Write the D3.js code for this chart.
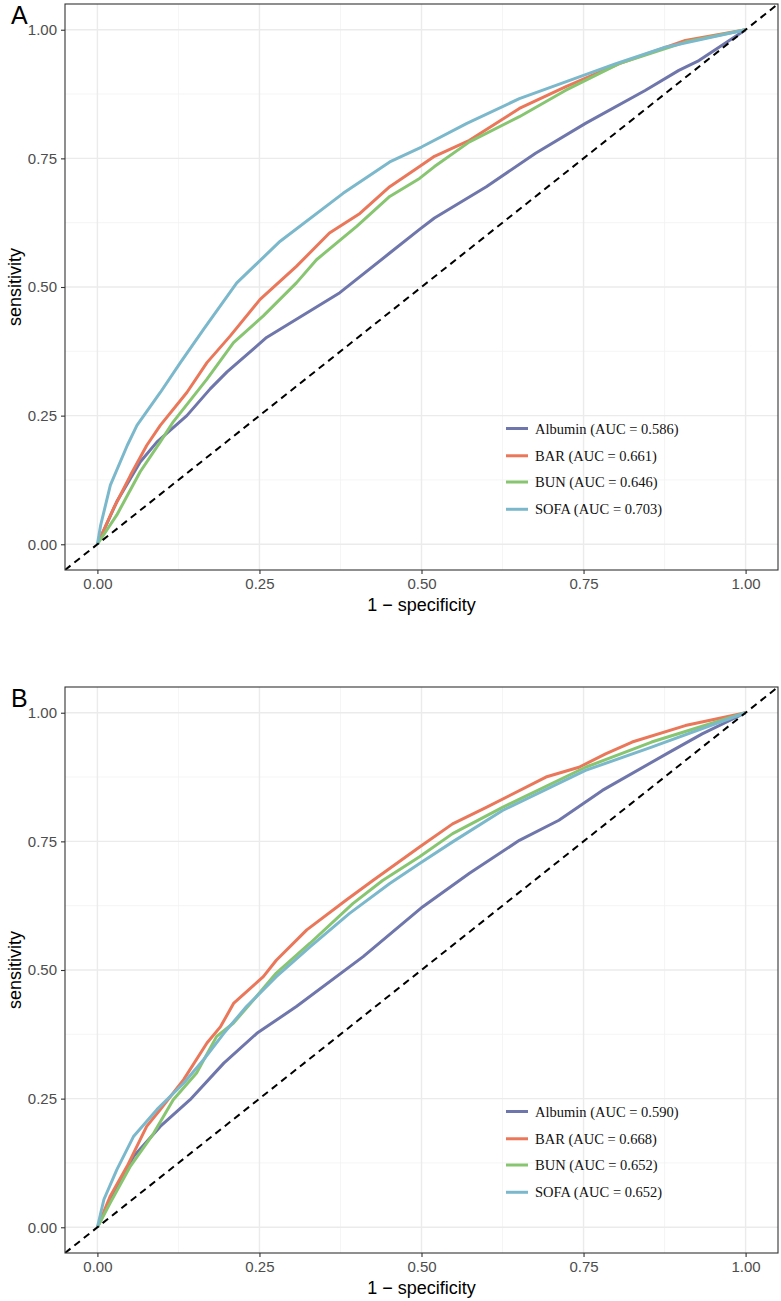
<!DOCTYPE html>
<html>
<head>
<meta charset="utf-8">
<script src="https://cdn.jsdelivr.net/npm/d3@7"></script>
<style>
  body { margin: 0; background: #fff; }
  svg { display: block; }
</style>
</head>
<body>
<div id="chart"></div>
<script>
// ROC points, [1 - specificity, sensitivity]
var albuminA = [[0,0],[0.03,0.083],[0.066,0.16],[0.092,0.199],[0.138,0.25],[0.174,0.302],[0.2,0.335],[0.261,0.402],[0.374,0.489],[0.451,0.566],[0.497,0.612],[0.52,0.634],[0.6,0.695],[0.676,0.76],[0.753,0.818],[0.845,0.882],[0.897,0.921],[0.928,0.94],[1,1]];
var barA = [[0,0],[0.025,0.07],[0.051,0.134],[0.076,0.192],[0.097,0.231],[0.138,0.295],[0.169,0.353],[0.205,0.405],[0.251,0.476],[0.307,0.54],[0.358,0.605],[0.405,0.643],[0.451,0.695],[0.497,0.734],[0.52,0.754],[0.574,0.785],[0.651,0.847],[0.722,0.889],[0.805,0.934],[0.907,0.979],[1,1]];
var bunA = [[0,0],[0.03,0.057],[0.066,0.141],[0.097,0.199],[0.117,0.238],[0.169,0.321],[0.21,0.392],[0.256,0.444],[0.307,0.508],[0.338,0.553],[0.4,0.618],[0.451,0.676],[0.497,0.711],[0.52,0.734],[0.574,0.782],[0.651,0.831],[0.722,0.882],[0.805,0.934],[0.907,0.976],[1,1]];
var sofaA = [[0,0],[0.005,0.037],[0.02,0.115],[0.046,0.192],[0.061,0.231],[0.097,0.295],[0.128,0.353],[0.164,0.418],[0.215,0.508],[0.282,0.589],[0.379,0.682],[0.451,0.743],[0.5,0.772],[0.57,0.818],[0.651,0.866],[0.8,0.934],[0.876,0.966],[1,1]];

var albuminB = [[0,0],[0.02,0.054],[0.056,0.138],[0.097,0.196],[0.143,0.248],[0.195,0.319],[0.246,0.377],[0.307,0.429],[0.41,0.526],[0.502,0.623],[0.574,0.688],[0.651,0.752],[0.712,0.791],[0.779,0.849],[0.882,0.923],[0.933,0.959],[1,1]];
var barB = [[0,0],[0.02,0.061],[0.046,0.119],[0.076,0.196],[0.097,0.229],[0.133,0.287],[0.169,0.358],[0.19,0.39],[0.21,0.435],[0.256,0.487],[0.276,0.519],[0.323,0.578],[0.384,0.636],[0.425,0.674],[0.497,0.739],[0.548,0.784],[0.6,0.816],[0.692,0.875],[0.743,0.894],[0.784,0.92],[0.825,0.943],[0.907,0.975],[1,1]];
var bunB = [[0,0],[0.02,0.048],[0.051,0.119],[0.087,0.183],[0.117,0.248],[0.153,0.3],[0.184,0.371],[0.21,0.397],[0.241,0.442],[0.276,0.494],[0.328,0.552],[0.394,0.629],[0.44,0.674],[0.497,0.72],[0.548,0.765],[0.625,0.816],[0.753,0.894],[0.855,0.943],[1,1]];
var sofaB = [[0,0],[0.01,0.054],[0.03,0.112],[0.056,0.177],[0.092,0.229],[0.133,0.28],[0.164,0.326],[0.195,0.377],[0.23,0.429],[0.276,0.487],[0.328,0.545],[0.389,0.61],[0.451,0.668],[0.497,0.707],[0.548,0.749],[0.625,0.81],[0.753,0.888],[0.855,0.933],[1,1]];

var seriesNames = ["Albumin", "BAR", "BUN", "SOFA"];
var seriesColors = ["#6e76ab", "#ea7759", "#88c571", "#7bb8cc"];
var aucA = ["0.586", "0.661", "0.646", "0.703"];
var aucB = ["0.590", "0.668", "0.652", "0.652"];
var tickValues = [0, 0.25, 0.5, 0.75, 1];
var minorValues = [0.125, 0.375, 0.625, 0.875];

var svg = d3.select("#chart").append("svg")
  .attr("width", 781)
  .attr("height", 1301);

function drawPanel(tag, top, data, auc) {
  var left = 65, right = 778, height = 566;
  var bottom = top + height;

  var x = d3.scaleLinear().domain([-0.05, 1.05]).range([left, right]);
  var y = d3.scaleLinear().domain([-0.05, 1.05]).range([bottom, top]);

  var g = svg.append("g");
  var clipId = "clip" + tag;
  g.append("clipPath").attr("id", clipId)
    .append("rect").attr("x", left).attr("y", top)
    .attr("width", right - left).attr("height", height);

  // grid
  g.selectAll(".minx").data(minorValues).enter().append("line")
    .attr("x1", x).attr("x2", x).attr("y1", top).attr("y2", bottom)
    .attr("stroke", "#f2f2f2").attr("stroke-width", 0.8);
  g.selectAll(".miny").data(minorValues).enter().append("line")
    .attr("y1", y).attr("y2", y).attr("x1", left).attr("x2", right)
    .attr("stroke", "#f2f2f2").attr("stroke-width", 0.8);
  g.selectAll(".majx").data(tickValues).enter().append("line")
    .attr("x1", x).attr("x2", x).attr("y1", top).attr("y2", bottom)
    .attr("stroke", "#ebebeb").attr("stroke-width", 1.4);
  g.selectAll(".majy").data(tickValues).enter().append("line")
    .attr("y1", y).attr("y2", y).attr("x1", left).attr("x2", right)
    .attr("stroke", "#ebebeb").attr("stroke-width", 1.4);

  var line = d3.line()
    .x(function(d) { return x(d[0]); })
    .y(function(d) { return y(d[1]); });

  var plot = g.append("g").attr("clip-path", "url(#" + clipId + ")");
  data.forEach(function(pts, i) {
    plot.append("path")
      .attr("d", line(pts))
      .attr("fill", "none")
      .attr("stroke", seriesColors[i])
      .attr("stroke-width", 3)
      .attr("stroke-linejoin", "round");
  });

  // reference diagonal
  plot.append("line")
    .attr("x1", x(-0.05)).attr("y1", y(-0.05))
    .attr("x2", x(1.05)).attr("y2", y(1.05))
    .attr("stroke", "#000").attr("stroke-width", 2)
    .attr("stroke-dasharray", "7,5");

  // border
  g.append("rect").attr("x", left).attr("y", top)
    .attr("width", right - left).attr("height", height)
    .attr("fill", "none").attr("stroke", "#333").attr("stroke-width", 1.1);

  // axes
  var xAxis = g.append("g").attr("transform", "translate(0," + bottom + ")")
    .call(d3.axisBottom(x).tickValues(tickValues).tickFormat(d3.format(".2f")).tickSizeOuter(0).tickSize(4).tickPadding(4));
  var yAxis = g.append("g").attr("transform", "translate(" + left + ",0)")
    .call(d3.axisLeft(y).tickValues(tickValues).tickFormat(d3.format(".2f")).tickSizeOuter(0).tickSize(4).tickPadding(4));
  [xAxis, yAxis].forEach(function(a) {
    a.select(".domain").remove();
    a.selectAll(".tick line").attr("stroke", "#333").attr("stroke-width", 1.1);
    a.selectAll(".tick text").attr("fill", "#4d4d4d")
      .style("font-family", "Liberation Sans, Arial, sans-serif").style("font-size", "15px");
  });

  g.append("text")
    .attr("x", (left + right) / 2).attr("y", bottom + 41)
    .attr("text-anchor", "middle")
    .style("font-family", "Liberation Sans, Arial, sans-serif").style("font-size", "18px")
    .text("1 \u2212 specificity");
  g.append("text")
    .attr("transform", "translate(21," + ((top + bottom) / 2) + ") rotate(-90)")
    .attr("text-anchor", "middle")
    .style("font-family", "Liberation Sans, Arial, sans-serif").style("font-size", "18px")
    .text("sensitivity");
  g.append("text")
    .attr("x", 11).attr("y", top + 20)
    .style("font-family", "Liberation Sans, Arial, sans-serif").style("font-size", "25px")
    .text(tag);

  // legend
  var legY = [y(0.225), y(0.172), y(0.121), y(0.068)];
  var leg = g.selectAll(".leg").data(seriesNames).enter().append("g")
    .attr("transform", function(d, i) { return "translate(506," + legY[i] + ")"; });
  leg.append("line").attr("x1", 0).attr("x2", 22)
    .attr("stroke", function(d, i) { return seriesColors[i]; })
    .attr("stroke-width", 3);
  leg.append("text").attr("x", 29).attr("y", 5)
    .attr("fill", "#111")
    .style("font-family", "Liberation Serif, Times New Roman, serif").style("font-size", "14.5px")
    .text(function(d, i) { return d + " (AUC = " + auc[i] + ")"; });
}

drawPanel("A", 4, [albuminA, barA, bunA, sofaA], aucA);
drawPanel("B", 687, [albuminB, barB, bunB, sofaB], aucB);
</script>
</body>
</html>
